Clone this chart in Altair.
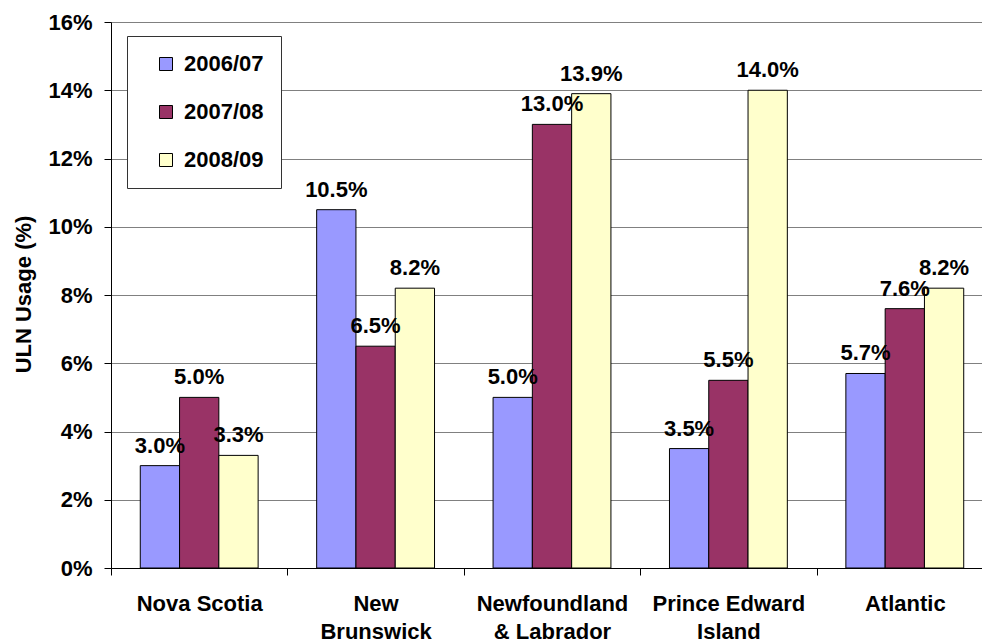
import altair as alt
import pandas as pd

# Regions (line breaks mark where the axis label wraps)
regions = ["Nova Scotia", "New\nBrunswick", "Newfoundland\n& Labrador", "Prince Edward\nIsland", "Atlantic"]
years = ["2006/07", "2007/08", "2008/09"]

# ULN usage in percent, one list per fiscal year, ordered as regions
usage_2006_07 = [3.0, 10.5, 5.0, 3.5, 5.7]
usage_2007_08 = [5.0, 6.5, 13.0, 5.5, 7.6]
usage_2008_09 = [3.3, 8.2, 13.9, 14.0, 8.2]

y_ticks = [0, 2, 4, 6, 8, 10, 12, 14, 16]
year_colors = ["#9999FF", "#993366", "#FFFFCC"]

rows = []
for year, series in zip(years, [usage_2006_07, usage_2007_08, usage_2008_09]):
    for region, value in zip(regions, series):
        rows.append({"region": region, "year": year, "usage": value})
df = pd.DataFrame(rows)

FONT = "Liberation Sans"

x_enc = alt.X(
    "region:N",
    sort=regions,
    title=None,
    scale=alt.Scale(range=[0, 882], paddingInner=0, paddingOuter=0),
    axis=alt.Axis(
        labelAngle=0,
        labelExpr="split(datum.label, '\\n')",
        tickBand="extent",
        tickSize=7,
        tickColor="black",
        domainColor="black",
        labelFont=FONT,
        labelFontSize=22,
        labelFontWeight="bold",
        labelColor="black",
        labelPadding=18,
        labelLineHeight=28,
        labelBaseline="top",
        grid=False,
    ),
)
xoff_enc = alt.XOffset(
    "year:N", sort=years, scale=alt.Scale(paddingOuter=0.745, paddingInner=0)
)
y_enc = alt.Y(
    "usage:Q",
    scale=alt.Scale(domain=[0, 16], nice=False),
    axis=alt.Axis(
        values=y_ticks,
        labelExpr="datum.value + '%'",
        title="ULN Usage (%)",
        titleFont=FONT,
        titleFontSize=22,
        titleFontWeight="bold",
        titleColor="black",
        titleX=-88,
        titleY=272,
        titleBaseline="middle",
        titleAngle=270,
        labelFont=FONT,
        labelFontSize=22,
        labelFontWeight="bold",
        labelColor="black",
        labelPadding=12,
        tickSize=7,
        tickColor="black",
        domainColor="black",
        grid=True,
        gridColor="#808080",
        gridWidth=1,
    ),
)

bars = alt.Chart(df).mark_bar(stroke="black", strokeWidth=1).encode(
    x=x_enc,
    xOffset=xoff_enc,
    y=y_enc,
    color=alt.Color(
        "year:N",
        sort=years,
        scale=alt.Scale(domain=years, range=year_colors),
        legend=alt.Legend(
            title=None,
            orient="none",
            legendX=16,
            legendY=14,
            direction="vertical",
            fillColor="white",
            strokeColor="#333333",
            padding=17,
            symbolOffset=11,
            symbolType="square",
            symbolSize=169,
            symbolStrokeColor="black",
            symbolStrokeWidth=1,
            labelFont=FONT,
            labelFontSize=22,
            labelFontWeight="bold",
            labelColor="black",
            labelOffset=7,
            rowPadding=26,
        ),
    ),
)

labels = (
    alt.Chart(df)
    .transform_calculate(label="format(datum.usage, '.1f') + '%'")
    .mark_text(
        dy=-13,
        baseline="alphabetic",
        align="center",
        font=FONT,
        fontSize=22,
        fontWeight="bold",
        color="black",
    )
    .encode(x=x_enc, xOffset=xoff_enc, y=y_enc, text="label:N")
)

chart = (
    alt.layer(bars, labels)
    .properties(
        width=871,
        height=546,
        autosize=alt.AutoSizeParams(type="none"),
        padding={"left": 111, "top": 22, "right": 0, "bottom": 73},
    )
    .configure_view(stroke=None)
    .configure(background="white")
)

chart.save("out.html", embed_options={"renderer": "svg", "actions": False})
